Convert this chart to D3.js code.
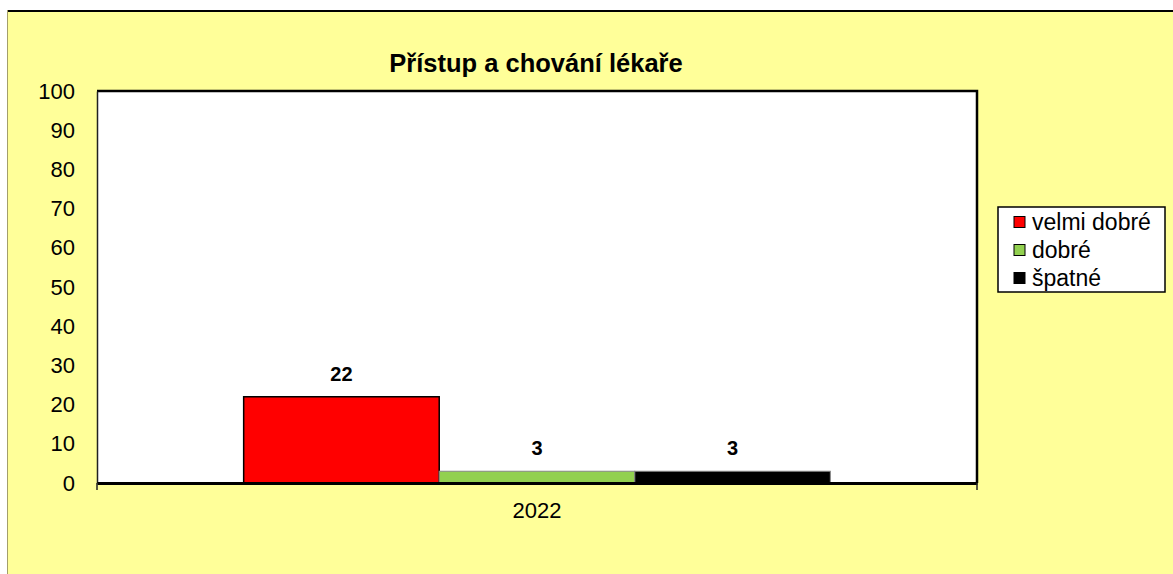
<!DOCTYPE html>
<html>
<head>
<meta charset="utf-8">
<script src="https://cdn.jsdelivr.net/npm/d3@7"></script>
<style>
  body { margin: 0; background: #fff; }
  svg { display: block; font-family: Arial, 'Liberation Sans', sans-serif; }
</style>
</head>
<body>
<div class="chart"></div>
<script>
const categories = ['2022'];
const seriesNames = ['velmi dobré', 'dobré', 'špatné'];
const seriesValues = [22, 3, 3];
const seriesColors = ['#ff0000', '#92d050', '#000000'];
const yTicks = [0, 10, 20, 30, 40, 50, 60, 70, 80, 90, 100];

const W = 1173, H = 574;
const margin = { top: 91, right: 196, bottom: 91, left: 97 },
  width = W - margin.left - margin.right,
  height = H - margin.top - margin.bottom;

const svg = d3.select('.chart').append('svg')
  .attr('width', W).attr('height', H);

// chart area background
svg.append('rect')
  .attr('x', 7).attr('y', 10).attr('width', W - 7).attr('height', H - 10)
  .attr('fill', '#ffff99');
svg.append('line')
  .attr('x1', 7).attr('x2', W).attr('y1', 11).attr('y2', 11)
  .attr('stroke', '#000').attr('stroke-width', 2);
svg.append('line')
  .attr('x1', 7.5).attr('x2', 7.5).attr('y1', 10).attr('y2', H)
  .attr('stroke', '#a39f6a').attr('stroke-width', 1);

const g = svg.append('g')
  .attr('transform', 'translate(' + margin.left + ',' + margin.top + ')');

const x0 = d3.scaleBand().domain(categories).range([0, width]);
const x1 = d3.scaleBand().domain(seriesNames)
  .range([0, x0.bandwidth()]).paddingOuter(0.75).paddingInner(0);
const y = d3.scaleLinear().domain([0, 100]).range([height, 0]);

// plot area
g.append('rect')
  .attr('width', width).attr('height', height)
  .attr('fill', '#fff');
g.append('path')
  .attr('d', `M0,0H${width}V${height}`)
  .attr('fill', 'none').attr('stroke', '#000').attr('stroke-width', 2.5);

// title
svg.append('text')
  .attr('x', 536)
  .attr('y', 72)
  .attr('text-anchor', 'middle')
  .attr('font-size', 25.5).attr('font-weight', 'bold')
  .text('Přístup a chování lékaře');

// bars
const data = seriesNames.map((s, i) => ({ name: s, value: seriesValues[i], color: seriesColors[i] }));
const grp = g.append('g').attr('transform', `translate(${x0(categories[0])},0)`);
grp.selectAll('.bar').data(data).enter().append('rect')
  .attr('class', 'bar')
  .attr('x', (d) => x1(d.name))
  .attr('width', x1.bandwidth())
  .attr('y', (d) => y(d.value))
  .attr('height', (d) => height - y(d.value))
  .attr('fill', (d) => d.color)
  .attr('stroke', (d, i) => (i === 0 ? '#000' : '#888'))
  .attr('stroke-width', (d, i) => (i === 0 ? 1.5 : 1));
grp.selectAll('.lbl').data(data).enter().append('text')
  .attr('class', 'lbl')
  .attr('x', (d) => x1(d.name) + x1.bandwidth() / 2)
  .attr('y', (d) => y(d.value) - 16)
  .attr('text-anchor', 'middle')
  .attr('font-size', 20).attr('font-weight', 'bold')
  .text((d) => d.value);

// y axis
const yAxis = g.append('g')
  .call(d3.axisLeft(y).tickValues(yTicks).tickSize(0).tickPadding(22));
yAxis.select('.domain').attr('stroke', '#222').attr('stroke-width', 1.5);
yAxis.selectAll('text').attr('font-size', 22).attr('fill', '#000')
  .attr('font-family', 'Arial, Liberation Sans, sans-serif');

// x axis
const xAxis = g.append('g')
  .attr('transform', `translate(0,${height})`)
  .call(d3.axisBottom(x0).tickSize(0).tickPadding(19));
xAxis.select('.domain').attr('stroke', '#000').attr('stroke-width', 3);
xAxis.selectAll('text').attr('font-size', 22).attr('fill', '#000')
  .attr('font-family', 'Arial, Liberation Sans, sans-serif');
xAxis.selectAll('.edge').data([0, width]).enter().append('line')
  .attr('x1', (d) => d).attr('x2', (d) => d)
  .attr('y1', 0).attr('y2', 7)
  .attr('stroke', '#222').attr('stroke-width', 1.5);

// legend
const lg = svg.append('g').attr('transform', 'translate(998,207)');
lg.append('rect')
  .attr('width', 167).attr('height', 85)
  .attr('fill', '#fff').attr('stroke', '#000').attr('stroke-width', 1.5);
const items = lg.selectAll('.item').data(data).enter().append('g')
  .attr('class', 'item')
  .attr('transform', (d, i) => `translate(16,${15 + i * 28})`);
items.append('rect')
  .attr('x', 0).attr('y', -5.5).attr('width', 11).attr('height', 11)
  .attr('fill', (d) => d.color).attr('stroke', '#000').attr('stroke-width', 1);
items.append('text')
  .attr('x', 18).attr('y', 8)
  .attr('font-size', 23)
  .text((d) => d.name);
</script>
</body>
</html>
